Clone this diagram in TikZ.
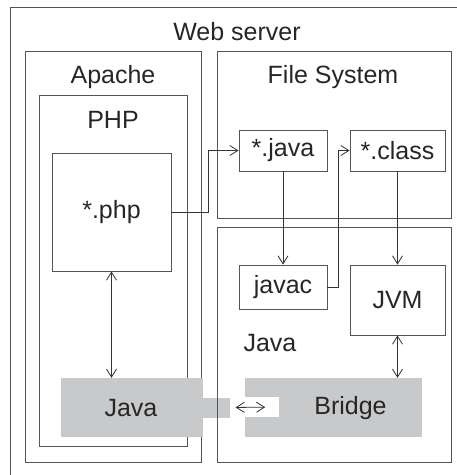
\documentclass[tikz,border=0pt]{standalone}
\usepackage{fontspec}
\setmainfont{Liberation Sans}
\usepackage{tikz}
\usetikzlibrary{positioning}
\usetikzlibrary{arrows.meta}
\definecolor{bridgegray}{RGB}{200,201,203}
\definecolor{linegray}{RGB}{85,85,85}

\begin{document}
\begin{tikzpicture}[x=1pt, y=-1pt,
                          font=\fontsize{25}{29}\selectfont, text=black!85,
                          >={Straight Barb[length=8pt,width=10pt]},
                          boxnode/.style={rectangle, draw=linegray, line width=0.9pt, inner sep=0pt},
                          graynode/.style={rectangle, fill=bridgegray, inner sep=0pt},
                          holenode/.style={rectangle, fill=white, inner sep=0pt},
                          titlenode/.style={inner sep=0pt},
                          arrowline/.style={draw=black!80, line width=0.8pt},
                      ]
                      \useasboundingbox (0,0) rectangle (457,475);
                      %Containers
                      \node[boxnode, minimum width=465pt, minimum height=490pt] (server)  at (242.5,252) {};
                      \node[boxnode, minimum width=176pt, minimum height=411pt] (apache)  at (113,256.5) {};
                      \node[boxnode, minimum width=148pt, minimum height=351pt] (php)     at (113,270.5) {};
                      \node[boxnode, minimum width=234pt, minimum height=167pt] (filesys) at (334,134.5) {};

                      %Gray parts
                      \node[graynode, minimum width=142pt, minimum height=59pt] (javagray) at (132,407.5) {};
                      \node[graynode, minimum width=28pt, minimum height=20pt]  (javatab)  [right=-1pt of javagray] {};
                      \node[graynode, minimum width=177pt, minimum height=59pt] (bridge)   at (333.5,407.5) {};
                      \node[holenode, minimum width=34pt, minimum height=20pt]  (notch)    at (262,407) {};
                      \node[boxnode, minimum width=234pt, minimum height=235pt] (javabox) at (334,344.5) {};

                      %Titles
                      \node[titlenode] (servertitle) at (237,32)  {Web server};
                      \node[titlenode] (apachetitle) at (113,77)  {Apache};
                      \node[titlenode] (fstitle)     at (333,77)  {File System};
                      \node[titlenode] (phptitle)    at (113,120) {PHP};
                      \node[titlenode] (javatitle)   at (270,343) {Java};
                      \node[titlenode] (javatext)    at (131,408) {Java};
                      \node[titlenode] (bridgetext)  at (350.5,408) {Bridge};

                      %Nodes
                      \node[boxnode, minimum width=119pt, minimum height=118pt] (phpfile)   at (111.5,212)   {*.php};
                      \node[boxnode, minimum width=88pt, minimum height=41pt]   (javafile)  at (283,150.5)   {*.java};
                      \node[boxnode, minimum width=95pt, minimum height=41pt]   (classfile) at (397.5,150.5) {*.class};
                      \node[boxnode, minimum width=88pt, minimum height=44pt]   (javac)     at (283,287)     {javac};
                      \node[boxnode, minimum width=95pt, minimum height=70pt]   (jvm)       at (397.5,300)   {JVM};

                      %Lines
                      \draw[arrowline, ->] (phpfile.east) -- ++(37,0) |- (javafile.west);
                      \draw[arrowline, ->] (javafile.south) -- (javac.north);
                      \draw[arrowline, ->] (javac.east) -- ++(11,0) |- (classfile.west);
                      \draw[arrowline, ->] (classfile.south) -- (jvm.north);
                      \draw[arrowline, <->] (jvm.south) -- (jvm.south |- bridge.north);
                      \draw[arrowline, <->] (phpfile.south) -- (phpfile.south |- javagray.north);
                      \draw[arrowline, <->, shorten <=5pt, shorten >=14pt] (javatab.east) -- (notch.east);
                  \end{tikzpicture}
\end{document}
